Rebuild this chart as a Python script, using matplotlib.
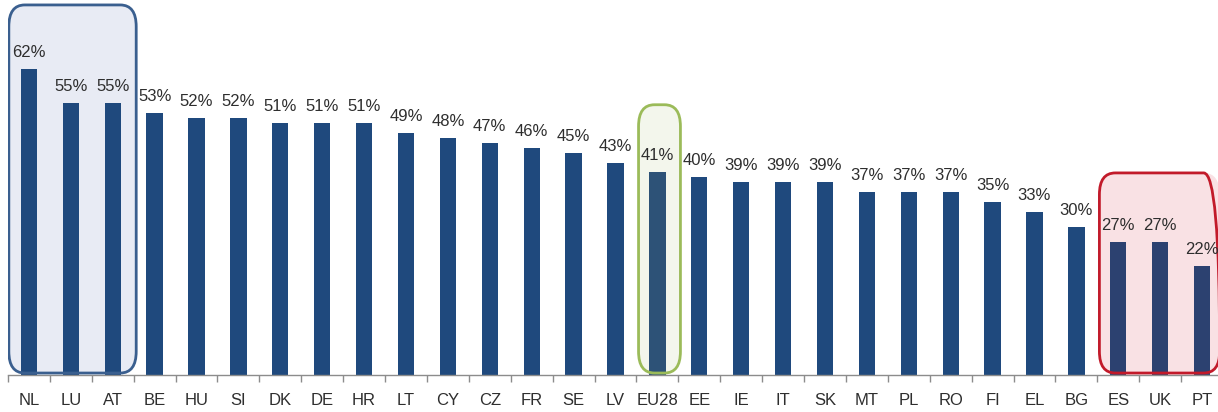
import matplotlib
matplotlib.use("Agg")
import matplotlib.pyplot as plt
from matplotlib.patches import FancyBboxPatch
import numpy as np

countries = ["NL", "LU", "AT", "BE", "HU", "SI", "DK", "DE", "HR", "LT", "CY", "CZ",
             "FR", "SE", "LV", "EU28", "EE", "IE", "IT", "SK", "MT", "PL", "RO", "FI",
             "EL", "BG", "ES", "UK", "PT"]
shares = [62, 55, 55, 53, 52, 52, 51, 51, 51, 49, 48, 47, 46, 45, 43, 41, 40, 39, 39,
          39, 37, 37, 37, 35, 33, 30, 27, 27, 22]

plt.rcParams["font.family"] = ["Liberation Sans", "DejaVu Sans"]

W, H = 1218, 412
fig = plt.figure(figsize=(W / 100, H / 100), dpi=100)
ax = fig.add_axes([8 / W, 37 / H, 1215 / W, 375 / H])

x = np.arange(len(countries))
bar_colors = []
for c in countries:
    if c == "EU28":
        bar_colors.append("#2d5277")
    elif c in ("ES", "UK", "PT"):
        bar_colors.append("#2c4170")
    else:
        bar_colors.append("#1f497d")

bars = ax.bar(x, shares, width=0.39, color=bar_colors, zorder=2)

txt = "#2e2e2e"
for xi, v in zip(x, shares):
    ax.annotate(f"{v}%", (xi, v), xytext=(0, 6.5), textcoords="offset points",
                ha="center", va="bottom", fontsize=12, color=txt, zorder=4)

ax.set_xlim(-0.5, 28.5)
ax.set_ylim(0, 75.9)

# Highlight groups: top three, EU average, bottom three
def group_box(x0, x1, top, face, edge):
    kw = dict(boxstyle="round,pad=0,rounding_size=0.38", mutation_aspect=11.5)
    fill = FancyBboxPatch((x0, 0.4), x1 - x0, top - 0.4, facecolor=face,
                          edgecolor="none", zorder=0, **kw)
    line = FancyBboxPatch((x0, 0.4), x1 - x0, top - 0.4, facecolor="none",
                          edgecolor=edge, linewidth=2, zorder=3, **kw)
    ax.add_patch(fill)
    ax.add_patch(line)

group_box(-0.48, 2.56, 74.9, "#e8ebf4", "#3a5f8f")
group_box(14.55, 15.55, 54.7, "#f3f6ec", "#9bbb59")
group_box(25.55, 28.42, 40.9, "#f9e1e4", "#c21a2a")

for s in ("top", "right", "left"):
    ax.spines[s].set_visible(False)
ax.spines["bottom"].set_color("#8c8c8c")
ax.spines["bottom"].set_linewidth(1)

ax.set_yticks([])
ax.set_xticks(x)
ax.set_xticklabels(countries, fontsize=12, color=txt)
ax.tick_params(axis="x", which="major", length=0, pad=13)
ax.set_xticks(np.arange(-0.5, 29.0, 1.0), minor=True)
ax.tick_params(axis="x", which="minor", length=5, color="#8c8c8c", width=1)

fig.savefig("out.png", dpi=100)
